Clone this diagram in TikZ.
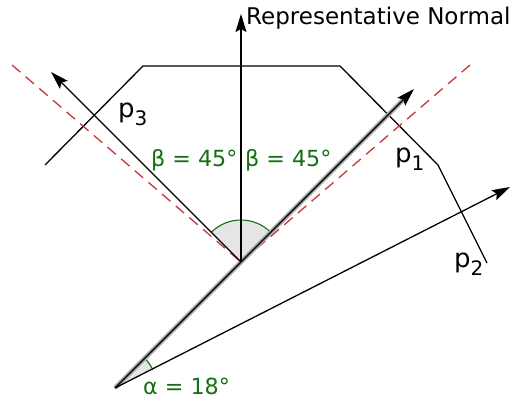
\documentclass[tikz,border=0pt]{standalone}
\usepackage{fontspec}
\setmainfont{DejaVu Sans}
\usepackage{tikz}
\usepackage{xcolor}
\usetikzlibrary{arrows.meta}

\definecolor{anglegreen}{RGB}{20,110,20}
\definecolor{boundred}{RGB}{200,55,55}
\tikzset{
    vec/.style={line width=1.3pt, -{Stealth[length=18pt,width=11pt,inset=3pt]}},
    facet/.style={line width=1.3pt},
    bound/.style={boundred, line width=1.3pt, dash pattern=on 11pt off 7pt},
    lbl/.style={inner sep=0pt, anchor=base west},
    anglelbl/.style={lbl, text=anglegreen, font=\fontsize{22.2}{22.2}\selectfont},
    plbl/.style={lbl, font=\fontsize{26}{26}\selectfont}
}
\newcommand{\facetlabel}[1]{p\raisebox{-8pt}{\fontsize{20}{20}\selectfont #1}}

\begin{document}
\begin{tikzpicture}[x=1pt,y=1pt]
    \useasboundingbox (0,0) rectangle (511,401);

    % Points of the construction
    \coordinate (O) at (115,13);
    \coordinate (C) at (241,139);
    \coordinate (T) at (414,312);
    \coordinate (N) at (241,387);
    \coordinate (L) at (51,329);
    \coordinate (R) at (510,214);
    \coordinate (D1) at (12,336);
    \coordinate (D2) at (470,336);

    % Angle sectors
    \fill[gray!20] (C) -- ++(45:42) arc (45:135:42) -- cycle;
    \draw[anglegreen, line width=1.1pt] (C) ++(45:42) arc (45:135:42);
    \fill[gray!20] (O) -- ++(27:42) arc (27:45:42) -- cycle;
    \draw[anglegreen, line width=1.1pt] (O) ++(27:42) arc (27:45:42);

    % Surface facets
    \draw[facet] (45,236) -- (143,335) -- (340,335) -- (438,236) -- (487,138);

    % Dashed bounds
    \draw[bound] (D1) -- (C);
    \draw[bound] (D2) -- (C);

    % Vectors
    \draw[line width=4.5pt, black!35, shorten >=15pt] (O) -- (T);
    \draw[vec] (O) -- (T);
    \draw[vec] (C) -- (N);
    \draw[vec] (C) -- (L);
    \draw[vec] (O) -- (R);

    % Labels
    \node[lbl, font=\fontsize{23}{23}\selectfont] (normal) at (246,376) {Representative Normal};
    \node[anglelbl] (betaL) at (151,234) {β = 45°};
    \node[anglelbl] (betaR) at (245,234) {β = 45°};
    \node[anglelbl] (alpha) at (143,6) {α = 18°};
    \node[plbl] (p3) at (118,283) {\facetlabel{3}};
    \node[plbl] (p1) at (395,238) {\facetlabel{1}};
    \node[plbl] (p2) at (454,133) {\facetlabel{2}};
\end{tikzpicture}
\end{document}
